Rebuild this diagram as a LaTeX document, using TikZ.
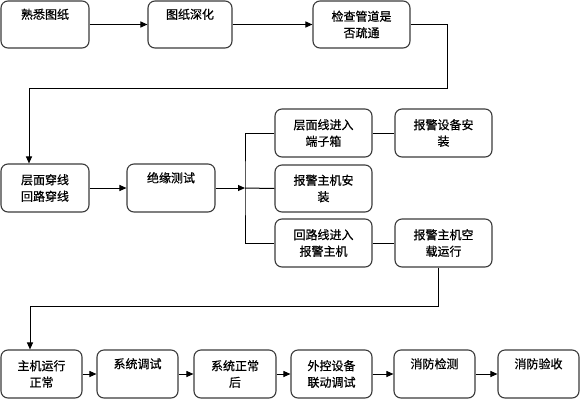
\documentclass[tikz,border=0pt]{standalone}
\usepackage{fontspec}
\setmainfont{Noto Sans CJK SC}[FakeBold=0.6]
\usetikzlibrary{arrows.meta}
\definecolor{boxgray}{HTML}{3A3A3A}
\begin{document}
\begin{tikzpicture}[x=1pt,y=-1pt,
  box/.style={draw=boxgray, line width=1.1pt, rounded corners=7pt, align=center,
    inner sep=0pt, minimum height=47pt, font=\fontsize{12}{16.5}\selectfont},
  link/.style={draw=black, line width=1pt},
  arr/.style={link, -{Triangle[length=7pt,width=6pt]}}]
\useasboundingbox (0,0) rectangle (581,400);
% top row
\node[box, minimum width=88pt] (b1) at (45,24.5) {熟悉图纸\\\strut};
\node[box, minimum width=84pt] (b2) at (190,24.5) {图纸深化\\\strut};
\node[box, minimum width=97pt] (b3) at (361.5,24.5) {检查管道是\\否疏通};
% middle row
\node[box, minimum width=88pt, minimum height=48pt] (b4) at (45,188) {层面穿线\\回路穿线};
\node[box, minimum width=88pt, minimum height=48pt] (b5) at (171,188) {绝缘测试\\\strut};
\node[box, minimum width=97pt, minimum height=48pt] (b6) at (323.5,133) {层面线进入\\端子箱};
\node[box, minimum width=97pt, minimum height=48pt] (b7) at (443.5,133) {报警设备安\\装};
\node[box, minimum width=97pt] (b8) at (323.5,188.5) {报警主机安\\装};
\node[box, minimum width=97pt, minimum height=48pt] (b9) at (323.5,243) {回路线进入\\报警主机};
\node[box, minimum width=97pt, minimum height=48pt] (b10) at (443.5,243) {报警主机空\\载运行};
% bottom row
\node[box, minimum width=81pt, minimum height=48pt] (b11) at (41.5,374) {主机运行\\正常};
\node[box, minimum width=81pt, minimum height=48pt] (b12) at (137.5,374) {系统调试\\\strut};
\node[box, minimum width=82pt, minimum height=48pt] (b13) at (235,374) {系统正常\\后};
\node[box, minimum width=81pt, minimum height=48pt] (b14) at (331.5,374) {外控设备\\联动调试};
\node[box, minimum width=81pt, minimum height=48pt] (b15) at (434.5,374) {消防检测\\\strut};
\node[box, minimum width=81pt, minimum height=48pt] (b16) at (538.5,374) {消防验收\\\strut};
% connectors
\coordinate (c1) at (447,88);
\coordinate (c2) at (29,88);
\coordinate (j) at (245,188);
\coordinate (c3) at (438,306);
\coordinate (c4) at (30,306);
\draw[arr] (b1) -- (b2);
\draw[arr] (b2) -- (b3);
\draw[arr] (b3.east) -| (c1) -- (c2) -- (c2 |- b4.north);
\draw[arr] (b4) -- (b5);
\draw[arr] (b5.east) -- (j);
\draw[link] (b6.west) -| (j) |- (b9.west);
\draw[link] (j) -- (b8.west);
\draw[link] (b6) -- (b7);
\draw[link] (b9) -- (b10);
\draw[arr] (c3 |- b10.south) -- (c3) -- (c4) -- (c4 |- b11.north);
\draw[arr] (b11) -- (b12);
\draw[arr] (b12) -- (b13);
\draw[arr] (b13) -- (b14);
\draw[arr] (b14) -- (b15);
\draw[arr] (b15) -- (b16);
\end{tikzpicture}
\end{document}
